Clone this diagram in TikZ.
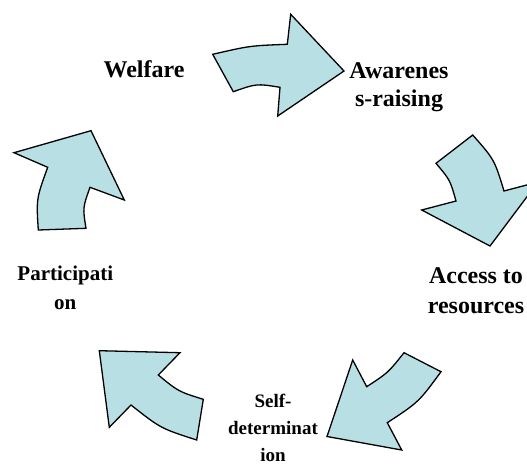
\documentclass[tikz,border=0pt]{standalone}
\usepackage{fontspec}
\setmainfont{Liberation Serif}
\definecolor{arrowfill}{RGB}{184,224,228}
\tikzset{
  cyclearrow/.style={draw=black, fill=arrowfill, line width=1.3pt, line join=miter},
  stagelabel/.style={font=\bfseries, align=center, inner sep=0pt, anchor=base}
}
\begin{document}
\begin{tikzpicture}[x=1pt,y=-1pt]
\useasboundingbox (0,0) rectangle (527,464);
\begin{scope}
\clip (0,0) rectangle (527,464);
% top arrow: Welfare -> Awareness-raising
\draw[cyclearrow] (212.7,54.3) .. controls (250,45.7) .. (287.3,44.3) -- (290.7,14.3)
  -- (344,71) -- (277.7,116) -- (280,87.3) .. controls (256.7,83.5) .. (233.3,91.7) -- cycle;
% right arrow: Awareness-raising -> Access to resources
\draw[cyclearrow] (472.7,135) .. controls (494.4,159.6) .. (504,191) -- (538,182)
  -- (490,246) -- (421.7,210) -- (456,201) .. controls (450.1,180) .. (436,163.3) -- cycle;
% lower right arrow: Access to resources -> Self-determination
\draw[cyclearrow] (404,352.7) -- (441,371.7) .. controls (418.8,402) .. (387.3,422.7)
  -- (401.7,450) -- (327,436.5) -- (352.7,360) -- (366.7,386.7) .. controls (388.2,372.6) .. cycle;
% lower left arrow: Self-determination -> Participation
\draw[cyclearrow] (99.3,350.7) -- (180,352.7) -- (158.3,375) .. controls (178.5,391.6) .. (203.3,399.3)
  -- (196.7,440) .. controls (160.7,428.4) .. (131,405) -- (109.3,427.3) -- cycle;
% left arrow: Participation -> Welfare
\draw[cyclearrow] (14,152.7) -- (91,130.7) -- (124.3,200) -- (90,187.3) .. controls (82.7,207.8) .. (86,228.3)
  -- (38.3,230) .. controls (36.3,198.7) .. (47.7,167.3) -- cycle;
\end{scope}
% stage labels (base anchor sits on the last line)
\node[stagelabel, font=\bfseries\fontsize{24}{28.4}\selectfont] (welfare) at (144,77.3) {Welfare};
\node[stagelabel, font=\bfseries\fontsize{24}{28.4}\selectfont] (aware) at (399,106.7) {Awarenes\\s-raising};
\node[stagelabel, font=\bfseries\fontsize{24}{29.5}\selectfont] (access) at (476,313) {Access to\\resources};
\node[stagelabel, font=\bfseries\fontsize{21}{28.6}\selectfont] (partic) at (65.3,309.3) {Participati\\on};
\node[stagelabel, font=\bfseries\fontsize{19}{27}\selectfont] (selfdet) at (273,461) {Self-\\determinat\\ion};
\end{tikzpicture}
\end{document}
